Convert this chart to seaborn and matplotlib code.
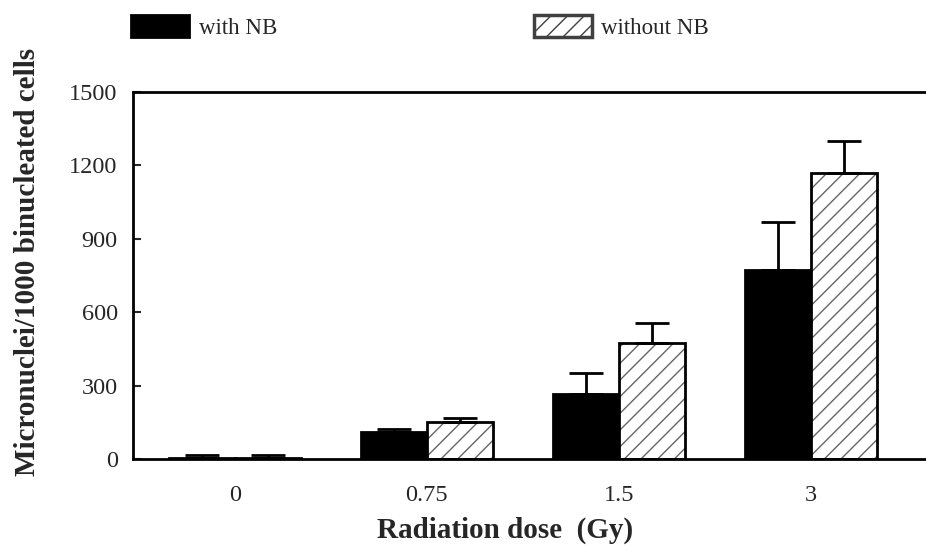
import pandas as pd
import matplotlib
matplotlib.use("Agg")
import matplotlib.pyplot as plt
from matplotlib.patches import Patch, Rectangle
import seaborn as sns


doses = ["0", "0.75", "1.5", "3"]
with_nb = [6, 112, 264, 772]
with_nb_err = [10, 12, 86, 198]
without_nb = [6, 151, 475, 1168]
without_nb_err = [10, 15, 80, 132]
groups = ["with NB", "without NB"]
yticks = [0, 300, 600, 900, 1200, 1500]

df = pd.DataFrame({
    "dose": doses * 2,
    "value": with_nb + without_nb,
    "err": with_nb_err + without_nb_err,
    "group": [groups[0]] * 4 + [groups[1]] * 4,
})

sns.set_style("white")
plt.rcParams["font.family"] = ["Liberation Serif", "DejaVu Serif"]
plt.rcParams["hatch.linewidth"] = 1.0

fig = plt.figure(figsize=(9.26, 5.55), dpi=100)
ax = fig.add_axes([133 / 926, 1 - 459 / 555, 1 - 133 / 926, 367 / 555])

sns.barplot(data=df, x="dose", y="value", hue="group", order=doses, hue_order=groups,
            palette=["black", "white"], edgecolor="black", linewidth=2,
            width=0.69, errorbar=None, legend=False, ax=ax)

# bars come out hue by hue: first 4 = with NB, next 4 = without NB
bars = ax.patches[:8]
for i, p in enumerate(bars):
    x = p.get_x() + p.get_width() / 2
    top = p.get_height()
    err = df["err"].iloc[i]
    ax.errorbar(x, top, yerr=[[0], [err]], fmt="none", ecolor="black",
                elinewidth=2, capsize=12, capthick=2, zorder=1)
    if i >= 4:
        # grey hatch inside, black outline on top
        p.set_edgecolor("0.4")
        p.set_hatch("//")
        p.set_linewidth(0)
        ax.add_patch(Rectangle(p.get_xy(), p.get_width(), p.get_height(),
                               fill=False, ec="black", lw=2, zorder=3))

ax.set_ylim(0, 1500)
ax.set_xlim(-0.53, 3.6)
ax.set_yticks(yticks)
ax.set_yticklabels([str(t) for t in yticks])
ax.tick_params(axis="y", direction="in", length=6, width=1.5, pad=11, labelsize=17.5, left=True)
ax.tick_params(axis="x", length=0, pad=19, labelsize=17.5)
for s in ["left", "top", "bottom"]:
    ax.spines[s].set_linewidth(2)
    ax.spines[s].set_color("black")
ax.spines["right"].set_visible(False)

ax.set_xlabel("Radiation dose  (Gy)", fontsize=21, fontweight="bold")
ax.set_ylabel("Micronuclei/1000 binucleated cells", fontsize=21, fontweight="bold")
ax.xaxis.set_label_coords(0.469, -0.156)
ax.yaxis.set_label_coords(-0.116, 0.537)

handles = [Patch(facecolor="black", edgecolor="black", lw=2, label=groups[0]),
           Patch(facecolor="white", edgecolor="0.25", hatch="//", lw=2.5, label=groups[1])]
fig.legend(handles=handles, loc="upper left", bbox_to_anchor=(120 / 926, 1 - 4 / 555),
           ncol=2, frameon=False, fontsize=16.5, borderpad=0, handlelength=2.53,
           handleheight=1.05, handletextpad=0.4, columnspacing=11.2)

fig.savefig("out.png", dpi=100)
